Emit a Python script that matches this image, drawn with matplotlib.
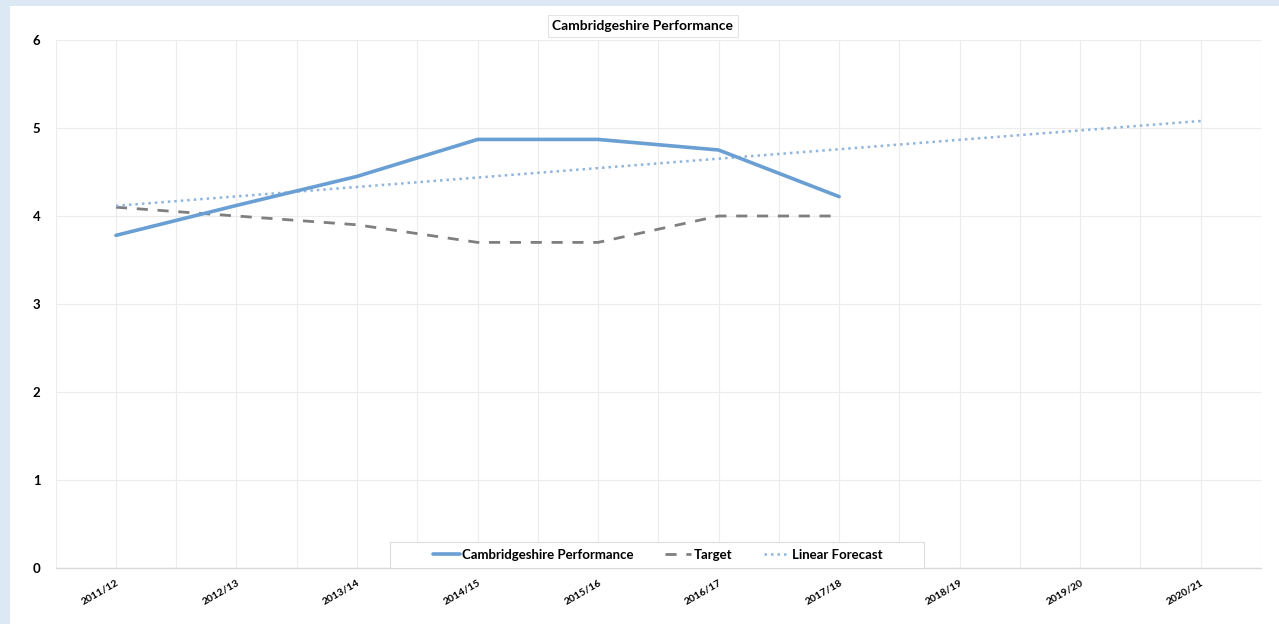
import numpy as np
import matplotlib
matplotlib.use("Agg")
import matplotlib.pyplot as plt
from matplotlib.patches import Rectangle

plt.rcParams['font.family'] = ['Lato', 'DejaVu Sans']

seasons = ["2011/12", "2012/13", "2013/14", "2014/15", "2015/16",
           "2016/17", "2017/18", "2018/19", "2019/20", "2020/21"]
performance = [3.78, 4.12, 4.45, 4.87, 4.87, 4.75, 4.22]
target = [4.1, 4.0, 3.9, 3.7, 3.7, 4.0, 4.0]

x_all = np.arange(len(seasons))
x_obs = np.arange(len(performance))

# Least-squares trend of the performance series, extended over all seasons
slope, intercept = np.polyfit(x_obs, performance, 1)
forecast = intercept + slope * x_all

W, H = 1279, 624
fig = plt.figure(figsize=(W / 100, H / 100), dpi=100)
fig.patch.set_facecolor("#dce8f4")
fig.patches.append(Rectangle((10 / W, 0), 1 - 10 / W, 1 - 6 / H,
                             transform=fig.transFigure, facecolor="white",
                             edgecolor="none", zorder=-10))

ax_l, ax_r, ax_t, ax_b = 55.7, 1261, 40, 568
ax = fig.add_axes([ax_l / W, 1 - ax_b / H, (ax_r - ax_l) / W, (ax_b - ax_t) / H])
ax.set_facecolor("white")

blue = "#6a9fd4"
grey = "#7f7f7f"
dot_blue = "#8fb4dd"

ax.plot(x_obs, performance, color=blue, lw=2.6, solid_capstyle="round",
        label="Cambridgeshire Performance", zorder=4)
ax.plot(x_obs, target, color=grey, lw=2.0, dashes=(4, 3.5),
        label="Target", zorder=3)
ax.plot(x_all, forecast, color=dot_blue, lw=1.8, dashes=(1, 1.6),
        label="Linear Forecast", zorder=3)

ax.set_xlim(-0.5, len(seasons) - 0.5)
ax.set_ylim(0, 6)
ax.set_yticks(range(0, 7))
ax.set_xticks(x_all)
ax.set_xticklabels(seasons, rotation=30, ha="right", rotation_mode="anchor",
                   fontsize=7.5, fontweight="bold")
for lab in ax.get_yticklabels():
    lab.set_fontweight("bold")
    lab.set_fontsize(9.5)
ax.tick_params(axis="both", length=0, colors="#000000")
ax.tick_params(axis="y", pad=11)
ax.tick_params(axis="x", pad=7)

# vertical grid at every half season, horizontal grid at each unit
for xv in np.arange(-0.5, len(seasons), 0.5):
    ax.axvline(xv, color="#ececec", lw=0.8, zorder=0)
for yv in range(0, 7):
    ax.axhline(yv, color="#ececec", lw=0.8, zorder=0)
for s in ["top", "right", "left"]:
    ax.spines[s].set_visible(False)
ax.spines["bottom"].set_color("#d9d9d9")
ax.spines["bottom"].set_linewidth(1.0)

fig.text(643 / W, 1 - 26 / H, "Cambridgeshire Performance",
         ha="center", va="center", fontsize=10, fontweight="bold",
         bbox=dict(boxstyle="square,pad=0.35", facecolor="white",
                   edgecolor="#e3e3e3", lw=0.8))

# legend box spanning the lower middle of the plot area
ax_w, ax_h = ax_r - ax_l, ax_b - ax_t
box_l, box_r, box_h = 390, 924, 26
ax.add_patch(Rectangle(((box_l - ax_l) / ax_w, 0), (box_r - box_l) / ax_w, box_h / ax_h,
                       transform=ax.transAxes, facecolor="white",
                       edgecolor="#dcdcdc", lw=0.8, zorder=5))
leg = ax.legend(loc="center", bbox_to_anchor=((658 - ax_l) / ax_w, (box_h / 2) / ax_h),
                ncol=3, frameon=False, handlelength=2.0,
                handletextpad=0.15, columnspacing=2.4, borderpad=0.0,
                prop={"weight": "bold", "size": 9.5})
leg.set_zorder(6)

fig.savefig("out.png", dpi=100, facecolor=fig.get_facecolor())
